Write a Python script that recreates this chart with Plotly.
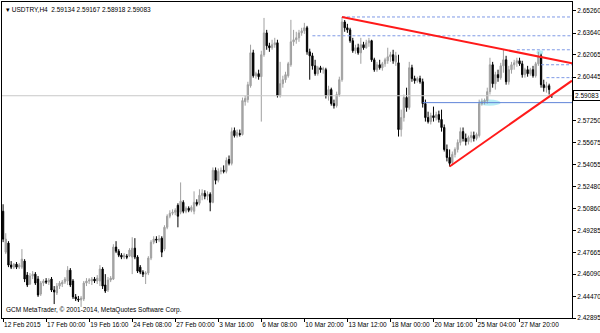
import plotly.graph_objects as go

# ---------------- data (USDTRY, H4) ----------------
OPEN = [
 2.5067,2.4769,2.4835,2.4675,2.4660,2.4682,2.4660,2.4660,2.4704,2.4602,
 2.4537,2.4595,2.4609,2.4573,2.4464,2.4544,2.4559,2.4551,2.4573,2.4493,
 2.4472,2.4522,2.4537,2.4551,2.4559,2.4638,2.4559,2.4443,2.4428,2.4421,
 2.4428,2.4544,2.4559,2.4559,2.4573,2.4559,2.4559,2.4646,2.4530,2.4493,
 2.4566,2.4573,2.4806,2.4776,2.4747,2.4733,2.4740,2.4740,2.4733,2.4798,
 2.4733,2.4660,2.4624,2.4609,2.4617,2.4726,2.4842,2.4864,2.4857,2.4871,
 2.4791,2.4950,2.5031,2.5052,2.5060,2.5110,2.5060,2.5132,2.5067,2.5089,
 2.5074,2.5067,2.5132,2.5125,2.5183,2.5198,2.5176,2.5191,2.5132,2.5365,
 2.5292,2.5357,2.5365,2.5357,2.5444,2.5416,2.5655,2.5618,2.5633,2.5626,
 2.5865,2.5880,2.5981,2.6221,2.6054,2.6069,2.6047,2.6207,2.6366,2.6272,
 2.6258,2.6280,2.6294,2.5909,2.5996,2.6025,2.6054,2.6134,2.6301,2.6316,
 2.6330,2.6366,2.6381,2.6403,2.6228,2.6199,2.6126,2.6069,2.6112,2.6098,
 2.6098,2.5909,2.5953,2.5851,2.5836,2.5917,2.6025,2.6446,2.6403,2.6388,
 2.6309,2.6236,2.6258,2.6221,2.6280,2.6258,2.6294,2.6309,2.6170,2.6098,
 2.6134,2.6112,2.6141,2.6163,2.6192,2.6207,2.6155,2.6148,2.5662,2.5749,
 2.5895,2.5822,2.6112,2.6033,2.6018,2.6033,2.6010,2.5851,2.5749,2.5720,
 2.5763,2.5749,2.5771,2.5735,2.5677,2.5517,2.5459,2.5423,2.5481,2.5517,
 2.5568,2.5647,2.5597,2.5575,2.5604,2.5618,2.5597,2.5618,2.5851,2.5865,
 2.5873,2.5938,2.6134,2.5996,2.6062,2.6040,2.6126,2.6170,2.6010,2.6098,
 2.6134,2.6148,2.6163,2.6141,2.6062,2.6098,2.6069,2.6098,2.6054,2.6141,
 2.6199,2.5989,2.5967,2.5981,2.59134]
HIGH = [
 2.5118,2.4907,2.4849,2.4704,2.4689,2.4697,2.4689,2.4791,2.4718,2.4624,
 2.4617,2.4631,2.4624,2.4595,2.4559,2.4573,2.4580,2.4580,2.4588,2.4522,
 2.4544,2.4559,2.4566,2.4588,2.4667,2.4653,2.4573,2.4464,2.4450,2.4450,
 2.4559,2.4580,2.4580,2.4588,2.4588,2.4602,2.4675,2.4660,2.4609,2.4588,
 2.4595,2.4827,2.4849,2.4791,2.4762,2.4762,2.4755,2.4798,2.4878,2.4871,
 2.4747,2.4675,2.4638,2.4631,2.4740,2.4857,2.4885,2.4885,2.4893,2.4885,
 2.4965,2.5045,2.5074,2.5081,2.5089,2.5125,2.5277,2.5147,2.5103,2.5103,
 2.5110,2.5212,2.5154,2.5227,2.5227,2.5220,2.5212,2.5205,2.5386,2.5386,
 2.5379,2.5386,2.5401,2.5459,2.5473,2.5677,2.5677,2.5662,2.5662,2.5895,
 2.5909,2.6010,2.6280,2.6243,2.6083,2.6098,2.6236,2.6475,2.6388,2.6294,
 2.6316,2.6330,2.6316,2.6155,2.6054,2.6083,2.6155,2.6461,2.6388,2.6374,
 2.6388,2.6403,2.6439,2.6417,2.6251,2.6221,2.6170,2.6126,2.6126,2.6119,
 2.6112,2.5981,2.5967,2.5880,2.5938,2.6047,2.6482,2.6460,2.6432,2.6403,
 2.6330,2.6280,2.6287,2.6330,2.6301,2.6316,2.6330,2.6316,2.6185,2.6155,
 2.6170,2.6155,2.6185,2.6258,2.6228,2.6243,2.6228,2.6207,2.5807,2.5917,
 2.5967,2.6155,2.6134,2.6054,2.6047,2.6054,2.6033,2.5880,2.5792,2.5785,
 2.5829,2.5792,2.5800,2.5807,2.5699,2.5553,2.5517,2.5502,2.5532,2.5590,
 2.5677,2.5677,2.5633,2.5618,2.5647,2.5647,2.5640,2.5880,2.5888,2.5888,
 2.5967,2.6185,2.6155,2.6083,2.6098,2.6148,2.6243,2.6199,2.6126,2.6155,
 2.6170,2.6185,2.6185,2.6163,2.6112,2.6126,2.6112,2.6126,2.6155,2.6228,
 2.6214,2.6025,2.6010,2.5996,2.59167]
LOW = [
 2.4842,2.4755,2.4660,2.4646,2.4646,2.4646,2.4646,2.4646,2.4551,2.4515,
 2.4530,2.4573,2.4530,2.4443,2.4450,2.4522,2.4537,2.4530,2.4479,2.4391,
 2.4457,2.4501,2.4515,2.4537,2.4530,2.4515,2.4428,2.4413,2.4406,2.4370,
 2.4413,2.4522,2.4537,2.4530,2.4544,2.4537,2.4522,2.4501,2.4472,2.4479,
 2.4551,2.4566,2.4762,2.4733,2.4718,2.4718,2.4718,2.4733,2.4609,2.4718,
 2.4617,2.4609,2.4588,2.4537,2.4602,2.4711,2.4827,2.4835,2.4842,2.4733,
 2.4776,2.4936,2.5016,2.5038,2.5038,2.4950,2.5045,2.5052,2.5052,2.5060,
 2.5060,2.5045,2.5103,2.5110,2.5147,2.5154,2.5147,2.5067,2.5125,2.5263,
 2.5277,2.5336,2.5343,2.5343,2.5401,2.5401,2.5604,2.5604,2.5611,2.5618,
 2.5836,2.5858,2.5967,2.6040,2.6033,2.6025,2.5720,2.6192,2.6243,2.6228,
 2.6243,2.6258,2.5895,2.5895,2.5967,2.6003,2.6040,2.6119,2.6272,2.6287,
 2.6301,2.6345,2.6359,2.6207,2.6025,2.6098,2.6054,2.6054,2.6076,2.6069,
 2.5888,2.5873,2.5836,2.5815,2.5822,2.5902,2.6010,2.6374,2.6366,2.6294,
 2.6221,2.6214,2.6207,2.6141,2.6243,2.6251,2.6265,2.6155,2.6083,2.6083,
 2.6098,2.6091,2.6119,2.6141,2.6155,2.6141,2.6126,2.5611,2.5611,2.5720,
 2.5792,2.5807,2.6010,2.5996,2.6003,2.5996,2.5822,2.5720,2.5706,2.5699,
 2.5720,2.5728,2.5713,2.5647,2.5502,2.5430,2.5393,2.5401,2.5459,2.5495,
 2.5546,2.5575,2.5546,2.5553,2.5568,2.5575,2.5583,2.5604,2.5836,2.5844,
 2.5851,2.5917,2.5967,2.5953,2.6010,2.6025,2.6076,2.5989,2.5989,2.6069,
 2.6098,2.6119,2.6126,2.6040,2.6040,2.6047,2.6054,2.6040,2.6040,2.6126,
 2.5967,2.5938,2.5931,2.5917,2.58918]
CLOSE = [
 2.4864,2.4864,2.4675,2.4660,2.4682,2.4660,2.4675,2.4718,2.4573,2.4530,
 2.4595,2.4609,2.4544,2.4457,2.4544,2.4559,2.4551,2.4566,2.4493,2.4479,
 2.4522,2.4544,2.4551,2.4573,2.4638,2.4530,2.4443,2.4428,2.4421,2.4435,
 2.4544,2.4559,2.4566,2.4573,2.4559,2.4580,2.4646,2.4522,2.4486,2.4566,
 2.4580,2.4806,2.4776,2.4747,2.4733,2.4747,2.4733,2.4784,2.4798,2.4733,
 2.4631,2.4624,2.4609,2.4617,2.4726,2.4842,2.4864,2.4857,2.4864,2.4769,
 2.4950,2.5031,2.5052,2.5060,2.5074,2.5031,2.5140,2.5067,2.5089,2.5074,
 2.5096,2.5132,2.5118,2.5183,2.5198,2.5176,2.5191,2.5132,2.5365,2.5292,
 2.5357,2.5365,2.5357,2.5437,2.5416,2.5647,2.5618,2.5640,2.5626,2.5873,
 2.5888,2.5989,2.6221,2.6054,2.6069,2.6047,2.6207,2.6366,2.6272,2.6258,
 2.6280,2.6294,2.5909,2.5996,2.6025,2.6062,2.6141,2.6301,2.6316,2.6330,
 2.6366,2.6381,2.6403,2.6228,2.6199,2.6126,2.6069,2.6112,2.6098,2.6105,
 2.5909,2.5953,2.5851,2.5836,2.5917,2.6025,2.6446,2.6403,2.6388,2.6309,
 2.6236,2.6258,2.6221,2.6280,2.6258,2.6294,2.6309,2.6170,2.6098,2.6134,
 2.6112,2.6141,2.6170,2.6192,2.6207,2.6163,2.6199,2.5662,2.5749,2.5895,
 2.5822,2.6112,2.6033,2.6018,2.6033,2.6010,2.5851,2.5749,2.5720,2.5763,
 2.5749,2.5771,2.5735,2.5677,2.5517,2.5459,2.5416,2.5481,2.5517,2.5568,
 2.5647,2.5597,2.5575,2.5604,2.5618,2.5597,2.5626,2.5851,2.5865,2.5873,
 2.5938,2.6134,2.5996,2.6062,2.6040,2.6126,2.6170,2.6010,2.6098,2.6134,
 2.6148,2.6163,2.6141,2.6062,2.6098,2.6069,2.6098,2.6054,2.6141,2.6199,
 2.5989,2.5967,2.5981,2.5953,2.59083]

TIME_TICK_BARS = [0, 16, 32, 48, 64, 80, 96, 112, 128, 144, 160, 176, 192]
TIME_TICK_TEXT = ["12 Feb 2015", "17 Feb 00:00", "19 Feb 16:00", "24 Feb 08:00",
                  "27 Feb 00:00", "3 Mar 16:00", "6 Mar 08:00", "10 Mar 20:00",
                  "13 Mar 12:00", "18 Mar 00:00", "20 Mar 16:00", "25 Mar 04:00",
                  "27 Mar 20:00"]
# 2.58870 sits under the bid-price box in the reference, so it is not labelled
PRICE_TICKS = [2.65260, 2.63640, 2.62065, 2.60445, 2.57250, 2.55675,
               2.54055, 2.52480, 2.50860, 2.49285, 2.47665, 2.46090, 2.44470, 2.42895]

# trend lines: (bar, price) endpoints
RESIST_X = [126, 211.5]
RESIST_Y = [2.6482, 2.6145]
SUPPORT_X = [166, 211.5]
SUPPORT_Y = [2.5393, 2.6018]
# dotted horizontal levels: start bar, price
DOT_START = [126, 115, 191, 200, 202]
DOT_PRICE = [2.6482, 2.6345, 2.6243, 2.6134, 2.6040]
# solid blue level
BLUE_START = 156
BLUE_PRICE = 2.5858
BID = 2.59083
HEADER = "USDTRY,H4  2.59134 2.59167 2.58918 2.59083"
X_END = 211.5

N = len(CLOSE)
idx = list(range(N))

fig = go.Figure()
fig.add_trace(go.Candlestick(
    x=idx, open=OPEN, high=HIGH, low=LOW, close=CLOSE,
    increasing=dict(line=dict(color="#a0a0a0", width=1), fillcolor="#a8a8a8"),
    decreasing=dict(line=dict(color="#000000", width=1), fillcolor="#000000"),
    whiskerwidth=0, showlegend=False, hoverinfo="skip"))

# bid line
fig.add_trace(go.Scatter(x=[-1, X_END], y=[BID, BID], mode="lines",
                         line=dict(color="#c8c8c8", width=1), showlegend=False, hoverinfo="skip"))
# dotted levels
for s, p in zip(DOT_START, DOT_PRICE):
    fig.add_trace(go.Scatter(x=[s, X_END], y=[p, p], mode="lines",
                             line=dict(color="#7f9ae6", width=1, dash="3px,2px"),
                             showlegend=False, hoverinfo="skip"))
# solid blue level
fig.add_trace(go.Scatter(x=[BLUE_START, X_END], y=[BLUE_PRICE, BLUE_PRICE], mode="lines",
                         line=dict(color="#5f84d8", width=1), showlegend=False, hoverinfo="skip"))
# trend lines
fig.add_trace(go.Scatter(x=RESIST_X, y=RESIST_Y, mode="lines",
                         line=dict(color="#ff1a1a", width=2), showlegend=False, hoverinfo="skip"))
fig.add_trace(go.Scatter(x=SUPPORT_X, y=SUPPORT_Y, mode="lines",
                         line=dict(color="#ff1a1a", width=2), showlegend=False, hoverinfo="skip"))

# cyan highlights
fig.add_shape(type="circle", xref="x", yref="y", x0=176.5, x1=185, y0=BLUE_PRICE - 0.0022,
              y1=BLUE_PRICE + 0.0022, fillcolor="rgba(120,220,235,0.55)", line=dict(width=0), layer="below")
fig.add_shape(type="circle", xref="x", yref="y", x0=198.3, x1=200.8, y0=2.6205,
              y1=2.6240, fillcolor="rgba(120,220,235,0.55)", line=dict(width=0), layer="below")

FONT = "Liberation Sans"
fig.add_annotation(xref="paper", yref="paper", x=0.004, y=0.995, xanchor="left", yanchor="top",
                   text="\u25BE " + HEADER, showarrow=False,
                   font=dict(family=FONT, size=6.5, color="#000000"))
fig.add_annotation(xref="paper", yref="paper", x=0.004, y=0.005, xanchor="left", yanchor="bottom",
                   text="GCM MetaTrader, \u00A9 2001-2014, MetaQuotes Software Corp.", showarrow=False,
                   font=dict(family=FONT, size=6.5, color="#000000"))
fig.add_annotation(xref="paper", yref="y", x=1.0, y=BID, xanchor="left", yanchor="middle",
                   text="2.59083", showarrow=False, xshift=1, borderpad=1,
                   bgcolor="#ffffff", bordercolor="#000000", borderwidth=1,
                   font=dict(family=FONT, size=6.5, color="#000000"))

fig.update_layout(
    width=600, height=333,
    margin=dict(l=2, r=28, t=2, b=15, autoexpand=False),
    paper_bgcolor="#ffffff", plot_bgcolor="#ffffff",
    font=dict(family=FONT, size=6.5, color="#000000"),
    showlegend=False,
)
fig.update_xaxes(range=[-0.4, X_END], rangeslider=dict(visible=False),
                 showgrid=False, zeroline=False, showline=True, mirror=True,
                 linecolor="#000000", linewidth=1, automargin=False,
                 tickmode="array", tickvals=TIME_TICK_BARS, ticktext=TIME_TICK_TEXT,
                 tickangle=0, ticks="outside", ticklen=3, tickcolor="#000000",
                 ticklabelposition="outside right",
                 tickfont=dict(family=FONT, size=6.5, color="#000000"))
fig.update_yaxes(range=[2.42895, 2.6591], side="right",
                 showgrid=False, zeroline=False, showline=True, mirror=True,
                 linecolor="#000000", linewidth=1, automargin=False,
                 tickmode="array", tickvals=PRICE_TICKS,
                 ticktext=[f"{v:.5f}" for v in PRICE_TICKS],
                 ticks="outside", ticklen=3, tickcolor="#000000",
                 tickfont=dict(family=FONT, size=6.5, color="#000000"))

fig.write_html("out.html")
